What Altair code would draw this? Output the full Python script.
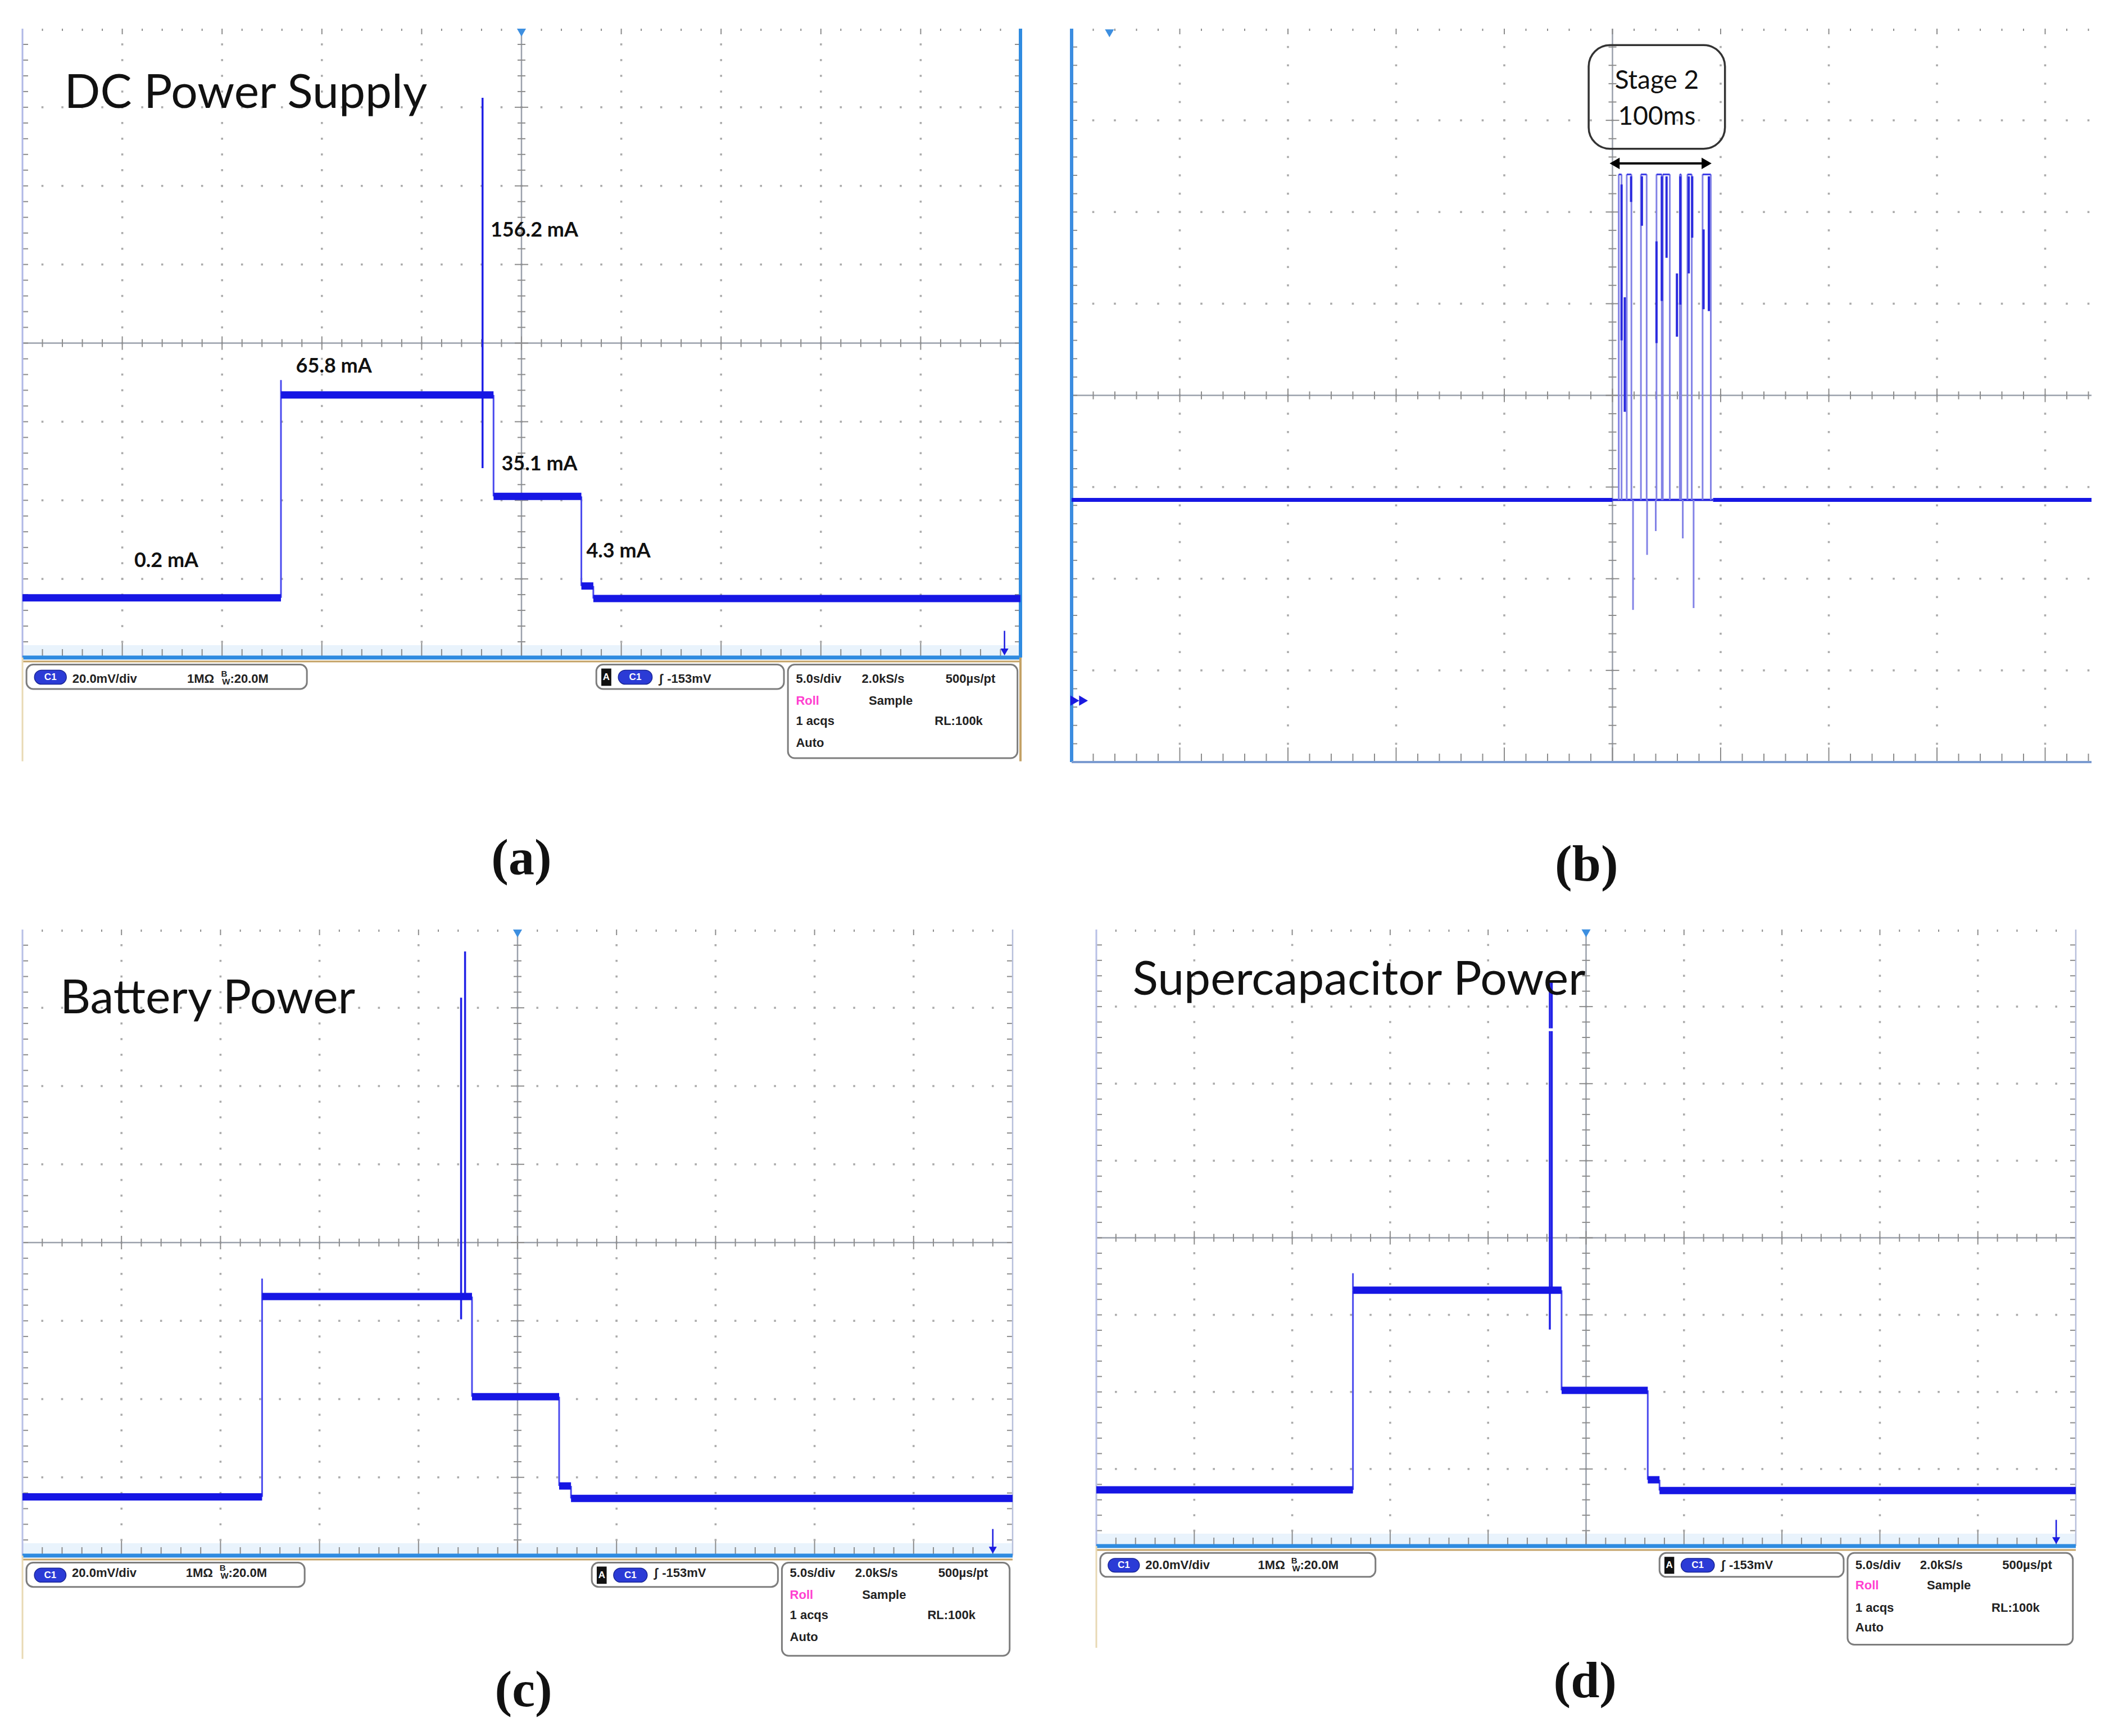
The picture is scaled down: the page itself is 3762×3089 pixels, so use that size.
import altair as alt
import numpy as np
import pandas as pd

# ---------------- data (oscilloscope screen units: x in divisions 0..10, y in divisions -4..4) ----------------
# (a) DC power supply
a_step_x = [0.0, 2.59, 4.72, 5.60, 5.72, 10.0]
a_step_y = [-3.24, -0.66, -1.95, -3.09, -3.25]
a_over_x = [2.59]
a_over_y = [-0.47]
a_spike_x = [4.61]
a_spike_top = [3.12]
a_spike_bottom = [-1.59]
a_label_text = ["156.2 mA", "65.8 mA", "35.1 mA", "4.3 mA", "0.2 mA"]
a_label_x = [4.69, 2.74, 4.80, 5.65, 1.12]
a_label_y = [1.43, -0.30, -1.54, -2.65, -2.77]

# (b) stage 2 burst
b_base = -1.14
b_high = 2.41
b_burst = [5.0, 5.93]
b_pulse_start = [5.058, 5.132, 5.263, 5.407, 5.465, 5.623, 5.693, 5.833]
b_pulse_end = [5.084, 5.175, 5.316, 5.456, 5.530, 5.635, 5.733, 5.909]
b_dip_x = [5.19, 5.32, 5.40, 5.65, 5.75]
b_dip_y = [-2.34, -1.74, -1.48, -1.56, -2.32]
b_dark_x = [5.084, 5.114, 5.172, 5.272, 5.407, 5.456, 5.500, 5.596, 5.627, 5.705, 5.737, 5.842, 5.891]
b_dark_top = [2.30, 1.07, 2.39, 2.39, 1.68, 2.39, 2.39, 1.33, 2.39, 2.39, 2.39, 1.81, 2.39]
b_dark_bottom = [0.60, -0.18, 2.11, 1.85, 0.57, 1.03, 1.50, 0.64, 0.99, 1.33, 1.72, 0.94, 0.92]

# (c) battery power
c_step_x = [0.0, 2.42, 4.54, 5.42, 5.54, 10.0]
c_step_y = [-3.25, -0.69, -1.97, -3.11, -3.27]
c_over_x = [2.42]
c_over_y = [-0.46]
c_spike_x = [4.43, 4.47]
c_spike_top = [3.13, 3.72]
c_spike_bottom = [-0.98, -0.69]

# (d) supercapacitor power
d_step_x = [0.0, 2.62, 4.75, 5.63, 5.75, 10.0]
d_step_y = [-3.27, -0.68, -1.98, -3.14, -3.28]
d_over_x = [2.62]
d_over_y = [-0.46]
d_spike_x = [4.63, 4.65]
d_spike_top = [3.33, 3.33]
d_spike_bottom = [-1.19, -0.68]

titles = ["DC Power Supply", "Battery Power", "Supercapacitor Power"]
captions = ["(a)", "(b)", "(c)", "(d)"]

# scope status bar
info_box_x = [0.04, 5.75, 7.67]
info_box_x2 = [2.85, 7.63, 9.97]
info_box_y = [-4.09, -4.09, -4.09]
info_box_y2 = [-4.40, -4.40, -5.28]
info_text = ["20.0mV/div", "1MΩ", ":20.0M", "∫", "-153mV", "5.0s/div", "2.0kS/s", "500µs/pt",
             "Roll", "Sample", "1 acqs", "RL:100k", "Auto"]
info_text_x = [0.50, 1.65, 2.08, 6.38, 6.46, 7.75, 8.41, 9.25, 7.75, 8.48, 7.75, 9.14, 7.75]
info_text_row = [0, 0, 0, 0, 0, 0, 0, 0, 1, 1, 2, 2, 3]
info_text_color = ["#222222"] * 8 + ["#ff3fd0"] + ["#222222"] * 4

BLUE = "#1616e4"
EDGE = "#4a4aee"


def build_panel(cfg):
    W, H, plot_h, xmax = cfg["W"], cfg["H"], cfg["plot_h"], cfg["xmax"]
    dy = plot_h / 8.0
    dx = W / xmax
    ymin = 4 - H / dy
    xs = alt.Scale(domain=[0, xmax], nice=False, zero=False)
    ys = alt.Scale(domain=[ymin, 4], nice=False, zero=False)

    def seg(rows, kind="rule", **mk):
        df = pd.DataFrame(rows, columns=["x", "x2", "y", "y2"])
        ch = alt.Chart(df)
        ch = ch.mark_rule(**mk) if kind == "rule" else ch.mark_rect(**mk)
        return ch.encode(x=alt.X("x:Q", scale=xs, axis=None), x2="x2:Q",
                         y=alt.Y("y:Q", scale=ys, axis=None), y2="y2:Q")

    def txt(rows, **mk):
        df = pd.DataFrame(rows, columns=["x", "y", "t", "c"])
        return alt.Chart(df).mark_text(**mk).encode(
            x=alt.X("x:Q", scale=xs, axis=None), y=alt.Y("y:Q", scale=ys, axis=None),
            text="t:N", color=alt.Color("c:N", scale=None))

    def sym(rows, kind="point", **mk):
        df = pd.DataFrame(rows, columns=["x", "y"])
        ch = alt.Chart(df)
        ch = ch.mark_square(**mk) if kind == "square" else ch.mark_point(**mk)
        return ch.encode(x=alt.X("x:Q", scale=xs, axis=None), y=alt.Y("y:Q", scale=ys, axis=None))

    L = []
    fifth = [round(v, 3) for v in np.arange(-4, 4.001, 0.2)][1:-1]
    xfifth = [round(u, 3) for u in np.arange(0.2, xmax, 0.2)]

    if cfg["info"]:
        L.append(seg([(0, xmax, -4, -4 + 22 / dy)], kind="rect", color="#e9f3fc"))

    # dotted graticule
    dots = []
    for g in range(1, 10):
        if g != 5 and g < xmax:
            dots += [(g, v) for v in fifth]
    for g in [-3, -2, -1, 1, 2, 3]:
        dots += [(u, g) for u in xfifth]
    L.append(sym(dots, kind="square", size=13, color="#ababab", opacity=1))

    # center cross with ticks
    L.append(seg([(5, 5, -4, 4), (0, xmax, 0, 0)], color="#9aa0ab", strokeWidth=2.5))
    ticks = []
    for v in fifth:
        ln = 12 if abs(v - round(v)) < 1e-6 else 7
        ticks.append((5 - ln / dx, 5 + ln / dx, v, v))
    for u in xfifth:
        ln = 12 if abs(u - round(u)) < 1e-6 else 7
        ticks.append((u, u, -ln / dy, ln / dy))
    # edge ticks
    for v in fifth:
        ticks.append((0, 10 / dx, v, v))
        if cfg["right"]:
            ticks.append((xmax - 10 / dx, xmax, v, v))
    for u in xfifth:
        major = abs(u - round(u)) < 1e-6
        ticks.append((u, u, -4, -4 + (26 if major else 15) / dy))
        ticks.append((u, u, 4 - (10 if major else 4) / dy, 4))
    L.append(seg(ticks, color="#8c8c8c", strokeWidth=2))

    # borders
    L.append(seg([(0, 0, -4, 4)], color=cfg["left_color"], strokeWidth=cfg["left_w"]))
    if cfg["right"]:
        L.append(seg([(xmax, xmax, -4, 4)], color=cfg["right_color"], strokeWidth=cfg["right_w"]))

    # trace
    if cfg["kind"] == "steps":
        sx, sy = cfg["step_x"], cfg["step_y"]
        edges = [(sx[i + 1], sx[i + 1], sy[i], sy[i + 1]) for i in range(len(sy) - 1)]
        for ox, oy in zip(cfg["over_x"], cfg["over_y"]):
            k = sx.index(ox)
            edges.append((ox, ox, sy[k], oy))
        L.append(seg(edges, color=EDGE, strokeWidth=3))
        spikes = [(x, x, b, t) for x, t, b in zip(cfg["spike_x"], cfg["spike_top"], cfg["spike_bottom"])]
        L.append(seg(spikes, color="#2020e6", strokeWidth=3.5))
        flats = [(sx[i], sx[i + 1], sy[i], sy[i]) for i in range(len(sy))]
        L.append(seg(flats, color=BLUE, strokeWidth=13))
        if cfg.get("gap_y") is not None:
            gx = cfg["spike_x"]
            L.append(seg([(min(gx) - 8 / dx, max(gx) + 8 / dx, cfg["gap_y"], cfg["gap_y"])],
                         color="white", strokeWidth=5))
    else:
        L.append(seg([(0, b_burst[0], b_base, b_base), (b_burst[1], xmax, b_base, b_base)],
                     color=BLUE, strokeWidth=7))
        L.append(seg([(b_burst[0], b_burst[1], b_base, b_base)], color="#2222dd", strokeWidth=4))
        edges = []
        for s, e in zip(b_pulse_start, b_pulse_end):
            edges += [(s, s, b_base, b_high), (e, e, b_high, b_base)]
        edges += [(x, x, b_base, y) for x, y in zip(b_dip_x, b_dip_y)]
        L.append(seg(edges, color="#8282e6", strokeWidth=3))
        L.append(seg([(s, e, b_high, b_high) for s, e in zip(b_pulse_start, b_pulse_end)],
                     color="#3a3ae6", strokeWidth=3))
        L.append(seg([(x, x, b, t) for x, t, b in zip(b_dark_x, b_dark_top, b_dark_bottom)],
                     color="#2a2ade", strokeWidth=4))
        # stage box and arrow
        L.append(seg([(4.78, 6.04, 2.69, 3.82)], kind="rect", fillOpacity=0, stroke="#333333",
                     strokeWidth=3.5, cornerRadius=38))
        L.append(txt([(5.41, 3.43, "Stage 2", "#111111"), (5.41, 3.04, "100ms", "#111111")],
                     font="Lato", fontSize=46, align="center", baseline="middle"))
        L.append(seg([(5.03, 5.86, 2.53, 2.53)], color="black", strokeWidth=4))
        L.append(sym([(5.02, 2.53)], shape="triangle-left", filled=True, size=420, color="black", opacity=1))
        L.append(sym([(5.87, 2.53)], shape="triangle-right", filled=True, size=420, color="black", opacity=1))
        L.append(seg([(0, xmax, -4, -4)], color="#7b9bd0", strokeWidth=4))
        L.append(sym([(0.03, -3.33), (0.11, -3.33)], shape="triangle-right", filled=True, size=330,
                     color="#1a1ae0", opacity=1))
        L.append(sym([(0.35, 3.95)], shape="triangle-down", filled=True, size=260, color="#3d8fe0", opacity=1))

    # status bar (a, c, d)
    if cfg["info"]:
        L.append(seg([(0, xmax, -4, -4)], color="#2f8be0", strokeWidth=7))
        L.append(seg([(0, xmax, -4 - 7 / dy, -4 - 7 / dy)], color="#c4a266", strokeWidth=3))
        if cfg["tan_sides"]:
            L.append(seg([(xmax, xmax, -4, -5.32)], color="#c4a266", strokeWidth=4))
        L.append(seg([(0, 0, -4, -5.32)], color="#e8d9b4", strokeWidth=3))
        L.append(sym([(5, 3.95)], shape="triangle-down", filled=True, size=260, color="#3d8fe0", opacity=1))
        ax = cfg["arrow_x"]
        L.append(seg([(ax, ax, -3.66, -3.9)], color="#1a1ae0", strokeWidth=2.5))
        L.append(sym([(ax, -3.93)], shape="triangle-down", filled=True, size=200, color="#1a1ae0", opacity=1))
        boxes = list(zip(info_box_x, info_box_x2, info_box_y, info_box_y2))
        L.append(seg(boxes, kind="rect", fill="white", stroke="#7d7d7d", strokeWidth=3, cornerRadius=12))
        rows_y = cfg["rows_y"]
        L.append(seg([(0.12, 0.44, -4.16, -4.34), (5.97, 6.31, -4.16, -4.34)], kind="rect",
                     fill="#2b3bd6", stroke="#1a2696", strokeWidth=1.5, cornerRadius=16))
        L.append(seg([(5.80, 5.90, -4.14, -4.36)], kind="rect", fill="#111111"))
        L.append(txt([(0.28, -4.25, "C1", "white"), (6.14, -4.25, "C1", "white"),
                      (5.85, -4.25, "A", "white")],
                     font="Liberation Sans", fontSize=17, fontWeight="bold", align="center", baseline="middle"))
        rows = [(x, rows_y[r], t, c) for x, r, t, c in zip(info_text_x, info_text_row, info_text, info_text_color)]
        L.append(txt(rows, font="Liberation Sans", fontSize=22, fontWeight="bold", align="left",
                     baseline="middle"))
        L.append(txt([(1.99, rows_y[0] + 0.06, "B", "#222222"), (2.00, rows_y[0] - 0.04, "W", "#222222")],
                     font="Liberation Sans", fontSize=15, fontWeight="bold", align="left", baseline="middle"))

    # texts
    if cfg.get("title"):
        L.append(txt([(cfg["title_x"], cfg["title_y"], cfg["title"], "#111111")],
                     font="Lato", fontSize=84, align="left", baseline="middle"))
    if cfg.get("labels"):
        lx, ly, lt = cfg["labels"]
        L.append(txt([(x, y, t, "#111111") for x, y, t in zip(lx, ly, lt)],
                     font="Lato", fontSize=36, fontWeight="bold", align="left", baseline="middle"))
    L.append(txt([(cfg["cap_x"], cfg["cap_y"], cfg["caption"], "#111111")],
                 font="Liberation Serif", fontSize=92, fontWeight="bold", align="center", baseline="middle"))

    return alt.layer(*L).properties(width=W, height=H)


pa = build_panel(dict(W=1776, H=1547, plot_h=1119, xmax=10, kind="steps", info=True, right=True,
                      left_color="#b0b8e6", left_w=3, right_color="#2f8be0", right_w=6, tan_sides=True,
                      step_x=a_step_x, step_y=a_step_y, over_x=a_over_x, over_y=a_over_y,
                      spike_x=a_spike_x, spike_top=a_spike_top, spike_bottom=a_spike_bottom,
                      arrow_x=9.84, rows_y=[-4.27, -4.55, -4.81, -5.09],
                      title=titles[0], title_x=0.42, title_y=3.17,
                      labels=(a_label_x, a_label_y, a_label_text),
                      caption=captions[0], cap_x=5.0, cap_y=-6.56))
pb = build_panel(dict(W=1815, H=1547, plot_h=1305, xmax=1815 / 192.5, kind="burst", info=False, right=False,
                      left_color="#3b8de0", left_w=6,
                      caption=captions[1], cap_x=4.76, cap_y=-5.12))
pc = build_panel(dict(W=1762, H=1416, plot_h=1114, xmax=10, kind="steps", info=True, right=True,
                      left_color="#b8c0e6", left_w=3, right_color="#b8c0dc", right_w=2.5, tan_sides=False,
                      step_x=c_step_x, step_y=c_step_y, over_x=c_over_x, over_y=c_over_y,
                      spike_x=c_spike_x, spike_top=c_spike_top, spike_bottom=c_spike_bottom,
                      arrow_x=9.80, rows_y=[-4.22, -4.50, -4.76, -5.04],
                      title=titles[1], title_x=0.38, title_y=3.11,
                      caption=captions[2], cap_x=5.06, cap_y=-5.72))
pd_ = build_panel(dict(W=1743, H=1416, plot_h=1097, xmax=10, kind="steps", info=True, right=True,
                       left_color="#b8c0e6", left_w=3, right_color="#b8c0dc", right_w=2.5, tan_sides=False,
                       step_x=d_step_x, step_y=d_step_y, over_x=d_over_x, over_y=d_over_y,
                       spike_x=d_spike_x, spike_top=d_spike_top, spike_bottom=d_spike_bottom, gap_y=2.70,
                       arrow_x=9.80, rows_y=[-4.25, -4.51, -4.80, -5.06],
                       title=titles[2], title_x=0.37, title_y=3.34,
                       caption=captions[3], cap_x=4.99, cap_y=-5.76))

chart = alt.vconcat(
    alt.hconcat(pa, pb, spacing=80),
    alt.hconcat(pc, pd_, spacing=135),
    spacing=54,
).properties(
    padding={"left": 25, "top": 40, "right": 0, "bottom": 0}
).configure(background="white", view=alt.ViewConfig(stroke=None))

chart.save("out.html", embed_options={"renderer": "svg", "actions": False})
